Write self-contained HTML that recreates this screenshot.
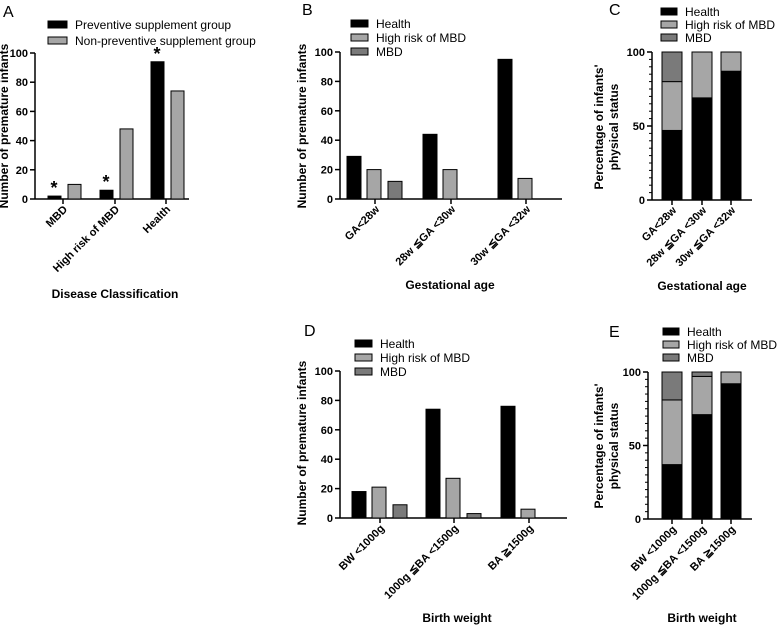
<!DOCTYPE html>
<html><head><meta charset="utf-8"><style>
html,body{margin:0;padding:0;background:#fff}
svg{display:block;font-family:"Liberation Sans",Arial,sans-serif}
.tk{font-size:11px;font-weight:bold}
.lab{font-size:12px;font-weight:bold}
.leg{font-size:12px}
.pl{font-size:16px}
</style></head><body>
<svg id="fig" width="778" height="626" viewBox="0 0 778 626" xmlns="http://www.w3.org/2000/svg"></svg>
<script>
// Panel A
const aCats = ["MBD","High risk of MBD","Health"];
const aPrev = [2,6,94];
const aNon = [10,48,74];
// Panel B
const bCats = ["GA<28w","28w \u2266GA <30w","30w \u2266GA <32w"];
const bHealth = [29,44,95];
const bHigh = [20,20,14];
const bMBD = [12,0,0];
// Panel C (percent)
const cHealth = [47,69,87];
const cHigh = [33,31,13];
const cMBD = [20,0,0];
// Panel D
const dCats = ["BW <1000g","1000g \u2266BA <1500g","BA \u22671500g"];
const dHealth = [18,74,76];
const dHigh = [21,27,6];
const dMBD = [9,3,0];
// Panel E (percent)
const eHealth = [37,71,92];
const eHigh = [44,26,8];
const eMBD = [19,3,0];
const countTicks = [0,20,40,60,80,100];
const pctTicks = [0,50,100];

const NS="http://www.w3.org/2000/svg";
const svg=document.getElementById('fig');
function mk(tag,attrs,parent){const e=document.createElementNS(NS,tag);for(const k in attrs)e.setAttribute(k,attrs[k]);(parent||svg).appendChild(e);return e;}
function txt(s,attrs,parent){const e=mk('text',attrs,parent);e.textContent=s;return e;}
const COL=['#000','#a6a6a6','#7a7a7a'];

function axes(g,ax,yT,yB,xE,ticks,maxV,ticksX,cats,minor){
  const ys=v=>yB-(v/maxV)*(yB-yT);
  const yl=mk('line',{x1:ax,y1:yT,x2:ax,y2:yB,stroke:'#000','stroke-width':1.5},g);
  
  
  const xl=mk('line',{x1:ax,y1:yB,x2:xE,y2:yB,stroke:'#000','stroke-width':1.5},g);
  
  
  if(minor){for(let v=0;v<=maxV;v+=minor){mk('line',{x1:ax-3,y1:ys(v),x2:ax,y2:ys(v),stroke:'#000','stroke-width':1},g);}}
  ticks.forEach(v=>{
    mk('line',{x1:ax-5,y1:ys(v),x2:ax,y2:ys(v),stroke:'#000','stroke-width':1.5},g);
    const t=txt(String(v),{x:ax-7,y:ys(v)+4,'text-anchor':'end',class:'tk'},g);
    
    
  });
  ticksX.forEach((x,i)=>{
    mk('line',{x1:x,y1:yB,x2:x,y2:yB+5,stroke:'#000','stroke-width':1.5},g);
    const t=txt(cats[i],{x:0,y:0,'text-anchor':'end',class:'tk',transform:`translate(${x+5},${yB+11}) rotate(-45)`},g);
    
    
  });
  return ys;
}
function legend(g,x,y0,dy,names,w){
  names.forEach((n,i)=>{
    const r=mk('rect',{x:x,y:y0+i*dy,width:w||17,height:7,fill:COL[i],stroke:'#000','stroke-width':1},g);
    
    
    const t=txt(n,{x:x+(w||17)+8,y:y0+i*dy+8,class:'leg'},g);
    
    
  });
}
function label(g,s,x,y,rot){
  const t=txt(s,{x:x,y:y,'text-anchor':'middle',class:'lab',transform:rot?`rotate(-90 ${x} ${y})`:''},g);
  return t;
}
function grouped(name,ax,yT,yB,xE,ticksX,cats,series,offs,bw){
  const g=mk('g',{});
  
  
  const ys=axes(g,ax,yT,yB,xE,countTicks,100,ticksX,cats,0);
  series.forEach((s,si)=>{
    s.forEach((v,i)=>{
      if(v<=0)return;
      const r=mk('rect',{x:ticksX[i]+offs[si],y:ys(v),width:bw,height:yB-ys(v),fill:COL[si],stroke:'#000','stroke-width':1},g);
      
      
    });
  });
  return {g,ys};
}
function stacked(name,ax,yT,yB,xE,ticksX,cats,series,bw){
  const g=mk('g',{});
  
  
  const ys=axes(g,ax,yT,yB,xE,pctTicks,100,ticksX,cats,5);
  ticksX.forEach((x,i)=>{
    let base=0;
    series.forEach((s,si)=>{
      const v=s[i]; if(v<=0)return;
      const r=mk('rect',{x:x-bw/2,y:ys(base+v),width:bw,height:ys(base)-ys(base+v),fill:COL[si],stroke:'#000','stroke-width':1},g);
      
      
      base+=v;
    });
  });
  return g;
}
// Panel A
{const {g,ys}=grouped('panel-a-chart',35,53,199,189,[63,115,166],aCats,[aPrev,aNon],[-15,5],13);
 [0,1,2].forEach(i=>{const s=txt('*',{x:63-8+(i==0?0:i==1?52:103)-1,y:ys(aPrev[i])-2,'text-anchor':'middle',style:'font-size:18px;font-weight:bold'},g);
   
   });
 legend(g,48,21,16,['Preventive supplement group','Non-preventive supplement group'],19);
 label(g,'Number of premature infants',8,126,true);
 label(g,'Disease Classification',115,298,false);
 const p=txt('A',{x:3,y:17,class:'pl'},g);}
// Panel B
{const {g}=grouped('panel-b-chart',340,52,199,562,[375,451,526],bCats,[bHealth,bHigh,bMBD],[-28,-8,13],14);
 legend(g,351,20,14,['Health','High risk of MBD','MBD']);
 label(g,'Number of premature infants',306,126,true);
 label(g,'Gestational age',450,289,false);
 const p=txt('B',{x:302,y:15,class:'pl'},g);}
// Panel C
{const g=stacked('panel-c-chart',652,52,200,752,[672,702,731],bCats,[cHealth,cHigh,cMBD],20);
 legend(g,661,8,13,['Health','High risk of MBD','MBD'],16);
 label(g,"Percentage of infants'",603,127,true);
 label(g,'physical status',618,127,true);
 label(g,'Gestational age',702,290,false);
 const p=txt('C',{x:609,y:15,class:'pl'},g);}
// Panel D
{const {g}=grouped('panel-d-chart',340,371,518,567,[380,454,529],dCats,[dHealth,dHigh,dMBD],[-28,-8,13],14);
 legend(g,355,340,14,['Health','High risk of MBD','MBD']);
 label(g,'Number of premature infants',306,443,true);
 label(g,'Birth weight',457,622,false);
 const p=txt('D',{x:304,y:336,class:'pl'},g);}
// Panel E
{const g=stacked('panel-e-chart',648,372,519,752,[672,702,731],dCats,[eHealth,eHigh,eMBD],20);
 legend(g,663,328,13,['Health','High risk of MBD','MBD'],16);
 label(g,"Percentage of infants'",603,446,true);
 label(g,'physical status',618,446,true);
 label(g,'Birth weight',702,622,false);
 const p=txt('E',{x:609,y:337,class:'pl'},g);}
</script>
</body></html>
